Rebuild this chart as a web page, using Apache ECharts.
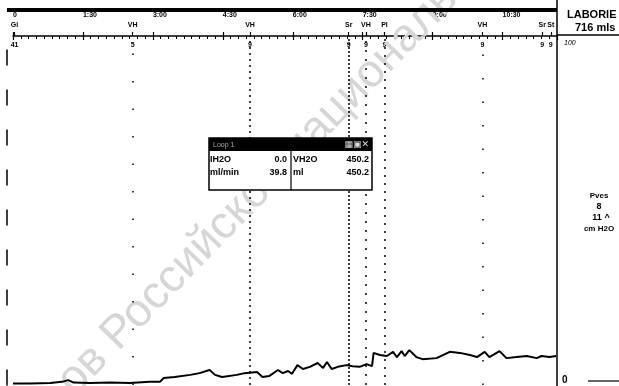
<!DOCTYPE html>
<html>
<head>
<meta charset="utf-8">
<script src="https://cdn.jsdelivr.net/npm/echarts@6/dist/echarts.min.js"></script>
<style>
html, body { margin: 0; padding: 0; background: #fff; }
#chart { width: 619px; height: 386px; }
</style>
</head>
<body>
<div id="chart"></div>
<script>
// Pves trace (s, cm H2O)
const times = [0, 22, 48, 63, 71, 78, 99, 125, 150, 176, 189, 194, 208, 228, 240, 253, 260, 269, 288, 298,
  314, 321, 330, 341, 347, 354, 359, 366, 373, 382, 392, 399, 404, 410, 418, 429, 437, 446, 455, 462,
  464, 472, 481, 489, 494, 500, 504, 510, 519, 527, 545, 562, 575, 588, 597, 607, 613, 626, 635, 648,
  661, 674, 680, 690, 699];
const pves = [0.4, 0.4, 0.6, 0.9, 1.4, 0.7, 0.6, 0.7, 0.6, 0.9, 0.9, 2.0, 2.3, 2.9, 3.4, 4.3, 2.9, 2.3, 2.9, 3.4,
  3.7, 2.3, 2.6, 4.3, 3.4, 4.0, 3.2, 5.7, 4.6, 5.2, 6.3, 4.9, 6.6, 4.6, 5.2, 5.7, 5.4, 5.2, 6.0, 5.4,
  9.2, 8.6, 8.3, 9.5, 8.0, 9.7, 8.3, 10.0, 8.0, 7.4, 7.7, 9.5, 9.2, 8.6, 8.0, 9.5, 8.0, 9.7, 7.7, 8.0,
  8.3, 7.7, 8.3, 8.0, 8.3];

// events
const eventTimes = [2, 154, 305, 432, 454, 478, 604, 681, 692];
const eventNames = ['Gi', 'VH', 'VH', 'Sr', 'VH', 'Pl', 'VH', 'Sr', 'St'];
const eventCounts = ['41', '5', '9', '9', '9', '9', '9', '9', '9'];

// info box
const boxLabels = ['IH2O', 'ml/min', 'VH2O', 'ml'];
const boxValues = ['0.0', '39.8', '450.2', '450.2'];

// side panel
const sideTitle = ['LABORIE', '716 mls'];
const sideChannel = ['Pves', '8', '11 ^', 'cm H2O'];
const watermark = 'ов Российской национальной';

const T_MIN = 0, T_MAX = 700;
const FONT = 'Liberation Sans';

// dot patterns of the event lines
const dots = [null, [1.5, 26], [2, 4], [2, 2], [2, 7], [2, 6], [1.5, 22], null, null];

function mmss(v) {
  if (v === 0) return '0';
  return Math.floor(v / 60) + ':' + String(v % 60).padStart(2, '0');
}

const chart = echarts.init(document.getElementById('chart'));

const baseX = { type: 'value', min: T_MIN, max: T_MAX, position: 'top', splitLine: { show: false } };

const markData = [];
eventTimes.forEach((t, i) => {
  if (dots[i]) markData.push({ xAxis: t, lineStyle: { type: dots[i] } });
});

const box = { x: 209, y: 138, w: 163, h: 52, head: 13 };
const boxText = (txt, x, y, align) => ({
  type: 'text', x: x, y: y, z: 101,
  style: { text: txt, font: 'bold 9px ' + FONT, fill: '#000', align: align, verticalAlign: 'middle' }
});

const option = {
  animation: false,
  backgroundColor: '#fff',
  grid: { left: 13, right: 62, top: 36, bottom: 1 },
  xAxis: [
    Object.assign({}, baseX, {
      interval: 90,
      axisLine: { show: true, onZero: false, lineStyle: { color: '#000', width: 1.5 } },
      axisTick: { show: true, length: 4, lineStyle: { color: '#000', width: 1.2 } },
      axisLabel: { show: true, formatter: mmss, align: 'left', margin: 17, showMaxLabel: false,
        color: '#000', fontFamily: FONT, fontWeight: 'bold', fontSize: 7 }
    }),
    Object.assign({}, baseX, {
      interval: 90,
      axisLine: { show: false, onZero: false },
      axisTick: { show: true, inside: true, length: 4, lineStyle: { color: '#000', width: 1.2 } },
      minorTick: { show: true, splitNumber: 9, length: 3, lineStyle: { color: '#000', width: 1 } },
      axisLabel: { show: false }
    }),
    Object.assign({}, baseX, {
      axisLine: { show: false, onZero: false },
      axisTick: { show: true, customValues: eventTimes, length: 4, lineStyle: { color: '#000', width: 1.2 } },
      axisLabel: { show: true, customValues: eventTimes, margin: 7,
        formatter: v => eventNames[eventTimes.indexOf(v)],
        color: '#000', fontFamily: FONT, fontWeight: 'bold', fontSize: 7 }
    }),
    Object.assign({}, baseX, {
      axisLine: { show: false, onZero: false },
      axisTick: { show: false },
      axisLabel: { show: true, inside: true, customValues: eventTimes, margin: 6,
        formatter: v => eventCounts[eventTimes.indexOf(v)],
        color: '#000', fontFamily: FONT, fontWeight: 'bold', fontSize: 7 }
    })
  ],
  yAxis: [
    {
      type: 'value', min: 0, max: 100, position: 'right',
      axisLine: { show: false, onZero: false }, axisTick: { show: false }, splitLine: { show: false },
      axisLabel: { customValues: [100], verticalAlign: 'top', align: 'left', margin: 7,
        padding: [4, 0, 0, 0], color: '#000', fontFamily: FONT, fontStyle: 'italic', fontSize: 7 }
    },
    {
      type: 'value', min: 0, max: 100, position: 'right',
      axisLine: { show: false, onZero: false }, axisTick: { show: false }, splitLine: { show: false },
      axisLabel: { customValues: [0], verticalAlign: 'bottom', align: 'left', margin: 5,
        color: '#000', fontFamily: FONT, fontWeight: 'bold', fontSize: 10 }
    },
    {
      type: 'value', min: 0, max: 100, position: 'left', offset: 6,
      axisLine: { show: true, onZero: false, lineStyle: { color: '#000', width: 1.5, type: [15, 25] } },
      axisTick: { show: false }, axisLabel: { show: false }, splitLine: { show: false }
    }
  ],
  series: [{
    name: 'Pves',
    type: 'line',
    xAxisIndex: 0,
    yAxisIndex: 0,
    data: times.map((t, i) => [t, pves[i]]),
    symbol: 'none',
    lineStyle: { color: '#000', width: 2 },
    markLine: {
      silent: true,
      symbol: ['none', 'none'],
      label: { show: false },
      lineStyle: { color: '#000', width: 1.5 },
      data: markData
    }
  }],
  graphic: [
    // watermark
    { type: 'text', x: 82, y: 404, rotation: 0.80, z: 1, silent: true,
      style: { text: watermark, font: '46px ' + FONT, fill: '#d6d6d6', align: 'left', verticalAlign: 'bottom' } },
    // frame lines
    { type: 'line', z: 50, shape: { x1: 7, y1: 10, x2: 557, y2: 10 }, style: { stroke: '#000', lineWidth: 4 } },
    { type: 'line', z: 50, shape: { x1: 557, y1: 0, x2: 557, y2: 386 }, style: { stroke: '#000', lineWidth: 1.5 } },
    { type: 'line', z: 50, shape: { x1: 557, y1: 35, x2: 619, y2: 35 }, style: { stroke: '#000', lineWidth: 1.5 } },
    { type: 'line', z: 50, shape: { x1: 588, y1: 381, x2: 619, y2: 381 }, style: { stroke: '#000', lineWidth: 1.2 } },
    // side panel
    { type: 'text', x: 567, y: 15, z: 50, style: { text: sideTitle[0], font: 'bold 11px ' + FONT, fill: '#000', verticalAlign: 'middle' } },
    { type: 'text', x: 575, y: 28, z: 50, style: { text: sideTitle[1], font: 'bold 11px ' + FONT, fill: '#000', verticalAlign: 'middle' } },
    { type: 'text', x: 599, y: 196, z: 50, style: { text: sideChannel[0], font: 'bold 8px ' + FONT, fill: '#000', align: 'center', verticalAlign: 'middle' } },
    { type: 'text', x: 599, y: 207, z: 50, style: { text: sideChannel[1], font: 'bold 9px ' + FONT, fill: '#000', align: 'center', verticalAlign: 'middle' } },
    { type: 'text', x: 601, y: 218, z: 50, style: { text: sideChannel[2], font: 'bold 9px ' + FONT, fill: '#000', align: 'center', verticalAlign: 'middle' } },
    { type: 'text', x: 599, y: 229, z: 50, style: { text: sideChannel[3], font: 'bold 8px ' + FONT, fill: '#000', align: 'center', verticalAlign: 'middle' } },
    // info box
    {
      type: 'group', x: box.x, y: box.y, z: 100,
      children: [
        { type: 'rect', z: 100, shape: { x: 0, y: 0, width: box.w, height: box.h }, style: { fill: '#fff', stroke: '#000', lineWidth: 1.5 } },
        { type: 'rect', z: 101, shape: { x: 0, y: 0, width: box.w, height: box.head }, style: { fill: '#000' } },
        { type: 'line', z: 101, shape: { x1: 82, y1: box.head, x2: 82, y2: box.h }, style: { stroke: '#000', lineWidth: 1.2 } },
        { type: 'text', z: 102, x: 4, y: 7, style: { text: 'Loop 1', font: '7px ' + FONT, fill: '#aaa', verticalAlign: 'middle' } },
        { type: 'text', z: 102, x: box.w - 3, y: 7, style: { text: '▦▣✕', font: 'bold 9px DejaVu Sans', fill: '#ddd', align: 'right', verticalAlign: 'middle' } },
        boxText(boxLabels[0], 1, 22, 'left'),
        boxText(boxValues[0], 78, 22, 'right'),
        boxText(boxLabels[1], 1, 35, 'left'),
        boxText(boxValues[1], 78, 35, 'right'),
        boxText(boxLabels[2], 84, 22, 'left'),
        boxText(boxValues[2], 160, 22, 'right'),
        boxText(boxLabels[3], 84, 35, 'left'),
        boxText(boxValues[3], 160, 35, 'right')
      ]
    }
  ]
};

chart.setOption(option);
</script>
</body>
</html>
